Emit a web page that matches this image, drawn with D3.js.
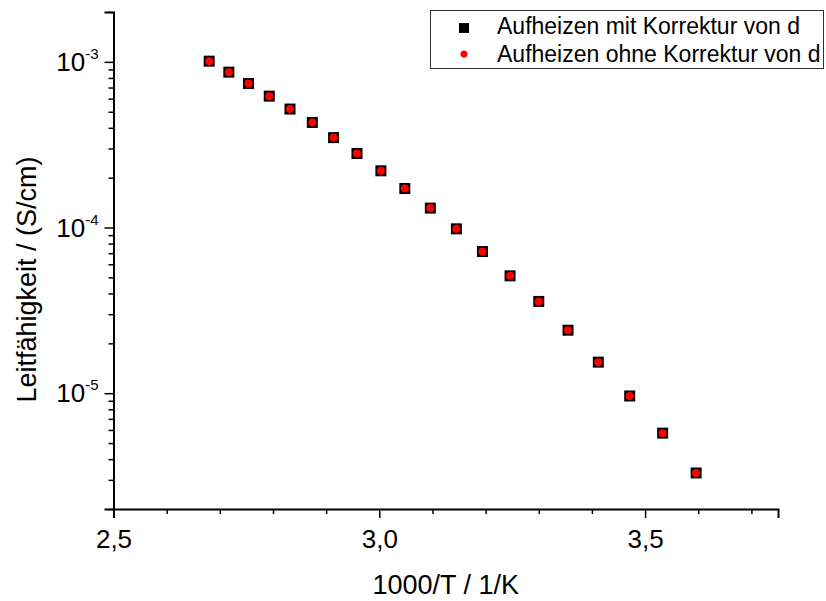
<!DOCTYPE html>
<html>
<head>
<meta charset="utf-8">
<script src="https://cdn.jsdelivr.net/npm/d3@7"></script>
<style>
  body { margin: 0; background: #fff; }
  svg text { font-family: "Liberation Sans", Arial, sans-serif; fill: #000; }
</style>
</head>
<body>
<div id="chart"></div>
<script>
var width = 826;
var height = 601;
var margin = {left: 113.5, right: 48, top: 12, bottom: 92};

/* data: x = 1000/T, y = conductivity in S/cm */
var invT = [2.680, 2.717, 2.754, 2.793, 2.832, 2.874, 2.914, 2.958, 3.003, 3.048,
            3.096, 3.145, 3.194, 3.246, 3.300, 3.355, 3.412, 3.471, 3.533, 3.596];
var sigmaMit = [1.01e-3, 8.67e-4, 7.40e-4, 6.21e-4, 5.19e-4, 4.31e-4, 3.49e-4, 2.80e-4, 2.20e-4, 1.72e-4,
                1.31e-4, 9.82e-5, 7.16e-5, 5.11e-5, 3.58e-5, 2.40e-5, 1.54e-5, 9.62e-6, 5.74e-6, 3.30e-6];
var sigmaOhne = [1.01e-3, 8.67e-4, 7.40e-4, 6.21e-4, 5.19e-4, 4.31e-4, 3.49e-4, 2.80e-4, 2.20e-4, 1.72e-4,
                 1.31e-4, 9.82e-5, 7.16e-5, 5.11e-5, 3.58e-5, 2.40e-5, 1.54e-5, 9.62e-6, 5.74e-6, 3.30e-6];
var seriesNames = ["Aufheizen mit Korrektur von d", "Aufheizen ohne Korrektur von d"];
var xTicks = [2.5, 3.0, 3.5];
var yTicks = [1e-5, 1e-4, 1e-3];

var fmtComma = d3.format(".1f");

/* Scale */
var xScale = d3.scaleLinear()
    .domain([2.5, 3.75])
    .range([margin.left, width - margin.right]);

var yScale = d3.scaleLog()
    .domain([2e-6, 2e-3])
    .range([height - margin.bottom, margin.top]);

var svg = d3.select("#chart").append("svg")
    .attr("width", width)
    .attr("height", height);

/* minor ticks */
var xMinor = d3.range(25, 38).map(d => d / 10).filter(d => xTicks.indexOf(d) < 0);
var yMinor = [];
[1e-6, 1e-5, 1e-4, 1e-3].forEach(function(dec) {
    d3.range(2, 10).forEach(function(m) {
        var v = +(m * dec).toPrecision(3);
        if (v >= 2e-6 && v <= 2e-3) yMinor.push(v);
    });
});

/* x axis */
var xAxis = svg.append("g")
    .attr("transform", `translate(0, ${height - margin.bottom})`)
    .call(d3.axisBottom(xScale).tickValues(xTicks).tickSize(9).tickPadding(12)
        .tickFormat(d => fmtComma(d).replace(".", ",")));
xAxis.append("g")
    .call(d3.axisBottom(xScale).tickValues(xMinor).tickSize(5).tickFormat(""))
    .select(".domain").remove();

/* y axis */
var yAxis = svg.append("g")
    .attr("transform", `translate(${margin.left}, 0)`)
    .call(d3.axisLeft(yScale).tickValues(yTicks).tickSize(9).tickPadding(6)
        .tickFormat(""));
yAxis.append("g")
    .call(d3.axisLeft(yScale).tickValues(yMinor).tickSize(5).tickFormat(""))
    .select(".domain").remove();

svg.selectAll(".domain").attr("stroke", "#000").attr("stroke-width", 2);
svg.selectAll(".tick line").attr("stroke", "#000").attr("stroke-width", 1.5);
xAxis.selectAll(".tick text").attr("font-size", 26).attr("fill", "#000");

/* y labels as 10 with superscript exponent */
var yLab = yAxis.selectAll(".ylab")
    .data(yTicks).enter()
    .append("text")
    .attr("class", "ylab")
    .attr("text-anchor", "end")
    .attr("x", -15)
    .attr("y", d => yScale(d) + 9)
    .attr("font-size", 26);
yLab.append("tspan").text("10");
yLab.append("tspan")
    .attr("dy", -12)
    .attr("font-size", 15)
    .text(d => Math.round(Math.log10(d)));

/* axis titles */
svg.append("text")
    .attr("x", (margin.left + width - margin.right) / 2)
    .attr("y", 594)
    .attr("text-anchor", "middle")
    .attr("font-size", 27)
    .text("1000/T / 1/K");

svg.append("text")
    .attr("transform", `translate(36, ${(margin.top + height - margin.bottom) / 2 + 19}) rotate(-90)`)
    .attr("text-anchor", "middle")
    .attr("font-size", 27)
    .text("Leitfähigkeit / (S/cm)");

/* points */
svg.append("g")
    .selectAll("rect")
    .data(invT).enter()
    .append("rect")
    .attr("x", (d, i) => xScale(d) - 5.5)
    .attr("y", (d, i) => yScale(sigmaMit[i]) - 5.5)
    .attr("width", 11)
    .attr("height", 11)
    .attr("fill", "#000");

svg.append("g")
    .selectAll("circle")
    .data(invT).enter()
    .append("circle")
    .attr("cx", (d, i) => xScale(d))
    .attr("cy", (d, i) => yScale(sigmaOhne[i]))
    .attr("r", 4)
    .attr("fill", "#ff0000");

/* legend */
var legend = svg.append("g")
    .attr("transform", "translate(430, 10)");
legend.append("rect")
    .attr("x", 0.5)
    .attr("y", 0.5)
    .attr("width", 393)
    .attr("height", 58)
    .attr("fill", "#fff")
    .attr("stroke", "#333")
    .attr("stroke-width", 1);
legend.append("rect")
    .attr("x", 29)
    .attr("y", 13)
    .attr("width", 10)
    .attr("height", 10)
    .attr("fill", "#000");
legend.append("circle")
    .attr("cx", 34)
    .attr("cy", 44)
    .attr("r", 3.5)
    .attr("fill", "#ff0000");
legend.selectAll(".lt")
    .data(seriesNames).enter()
    .append("text")
    .attr("class", "lt")
    .attr("x", 67)
    .attr("y", (d, i) => 24 + i * 28)
    .attr("font-size", 23)
    .text(d => d);
</script>
</body>
</html>
